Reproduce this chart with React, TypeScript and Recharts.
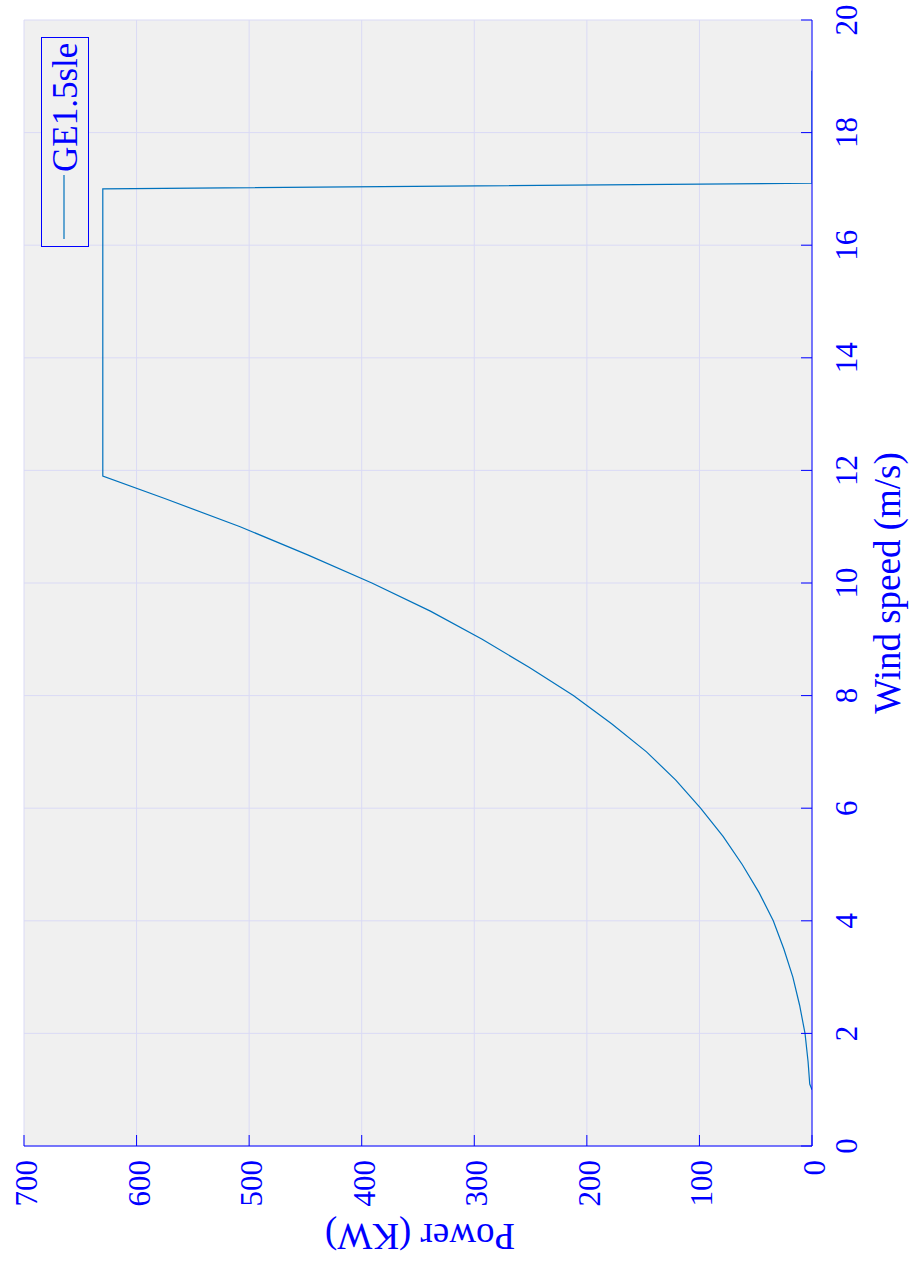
import React from 'react';
import { LineChart, Line, XAxis, YAxis, CartesianGrid, Legend, Label } from 'recharts';

// ---- data (GE1.5sle power curve) ----
const windSpeed = [1.0, 1.1, 1.5, 2.0, 2.5, 3.0, 3.5, 4.0, 4.5, 5.0, 5.5, 6.0, 6.5, 7.0, 7.5, 8.0, 8.5, 9.0, 9.5, 10.0, 10.5, 11.0, 11.5, 11.9, 17.0, 17.1, 19.1];
const powerKW = [0, 2, 3.5, 6.2, 11, 17, 25, 34.4, 47, 62, 79, 99, 121, 147, 178, 212, 251, 293, 339, 391, 448, 508, 575, 630, 630, 0, 0];
const powerTicks = [0, 100, 200, 300, 400, 500, 600, 700];
const windTicks = [0, 2, 4, 6, 8, 10, 12, 14, 16, 18, 20];
const seriesName = 'GE1.5sle';
const xLabel = 'Power (KW)';
const yLabel = 'Wind speed (m/s)';

const data = windSpeed.map((w, i) => ({ wind: w, power: powerKW[i] }));

const BLUE = '#0000FF';
const LINE = '#0072BD';
const FONT = '"Liberation Serif", "Times New Roman", serif';

const PowerTick = (props: any) => {
  const { x, y, payload } = props;
  const bx = x + 13;
  return (
    <text x={bx} y={y} transform={`rotate(-90 ${bx} ${y})`} textAnchor="end" fill={BLUE} fontSize={31} fontFamily={FONT}>
      {payload.value}
    </text>
  );
};

const WindTick = (props: any) => {
  const { x, y, payload } = props;
  return (
    <text x={x} y={y} transform={`rotate(-90 ${x} ${y})`} textAnchor="middle" fill={BLUE} fontSize={31} fontFamily={FONT}>
      {payload.value}
    </text>
  );
};

const WindLabel = (props: any) => {
  const vb = props.viewBox || { x: 812, y: 20, width: 102, height: 1126 };
  const bx = vb.x + 88;
  const cy = vb.y + vb.height / 2;
  return (
    <text x={bx} y={cy} transform={`rotate(-90 ${bx} ${cy})`} textAnchor="middle" fill={BLUE} fontSize={37} fontFamily={FONT}>
      {yLabel}
    </text>
  );
};

const PowerLabel = (props: any) => {
  const vb = props.viewBox || { x: 24, y: 1146, width: 788, height: 115 };
  const cx = vb.x + vb.width / 2 + 2;
  const by = vb.y + 78;
  return (
    <text x={cx} y={by} transform={`rotate(180 ${cx} ${by})`} textAnchor="middle" fill={BLUE} fontSize={37} fontFamily={FONT}>
      {xLabel}
    </text>
  );
};

const LegendBox = () => (
  <svg width={50} height={212} style={{ display: 'block' }}>
    <rect x={0.5} y={0.5} width={47} height={209} fill="#F0F0F0" stroke={BLUE} strokeWidth={1} />
    <line x1={23} x2={23} y1={138} y2={202} stroke={LINE} strokeWidth={1.2} />
    <text x={36} y={135} transform="rotate(-90 36 135)" textAnchor="start" fill={BLUE} fontSize={35} fontFamily={FONT}>
      {seriesName}
    </text>
  </svg>
);

export default function App() {
  return (
    <div style={{ position: 'absolute', left: 0, top: 0, width: 914, height: 1261, background: '#fff' }}>
      <LineChart width={914} height={1261} data={data} margin={{ top: 20, right: 0, bottom: 0, left: 24 }}>
        <CartesianGrid stroke="#DADAF5" strokeWidth={1} fill="#F0F0F0" fillOpacity={1} />
        <XAxis
          dataKey="power"
          type="number"
          domain={[0, 700]}
          ticks={powerTicks}
          reversed
          allowDataOverflow
          orientation="bottom"
          height={115}
          stroke={BLUE}
          tickSize={-11}
          tickMargin={25}
          tick={<PowerTick />}
        >
          <Label content={<PowerLabel />} />
        </XAxis>
        <XAxis
          xAxisId="top"
          dataKey="power"
          type="number"
          domain={[0, 700]}
          ticks={powerTicks}
          reversed
          allowDataOverflow
          orientation="top"
          height={0}
          stroke={BLUE}
          tickSize={-11}
          tick={false}
        />
        <YAxis
          type="number"
          domain={[0, 20]}
          ticks={windTicks}
          allowDataOverflow
          orientation="right"
          width={102}
          stroke={BLUE}
          tickSize={-11}
          tickMargin={56}
          tick={<WindTick />}
        >
          <Label content={<WindLabel />} />
        </YAxis>
        <YAxis
          yAxisId="left"
          type="number"
          domain={[0, 20]}
          ticks={windTicks}
          allowDataOverflow
          orientation="left"
          width={0}
          stroke={BLUE}
          tickSize={-11}
          tick={false}
        />
        <Legend
          layout="vertical"
          align="center"
          verticalAlign="middle"
          wrapperStyle={{ position: 'absolute', left: 41, top: 37, width: 50, height: 212 }}
          content={() => <LegendBox />}
        />
        <Line
          dataKey="wind"
          name={seriesName}
          type="linear"
          stroke={LINE}
          strokeWidth={1.2}
          dot={false}
          activeDot={false}
          isAnimationActive={false}
        />
      </LineChart>
    </div>
  );
}
